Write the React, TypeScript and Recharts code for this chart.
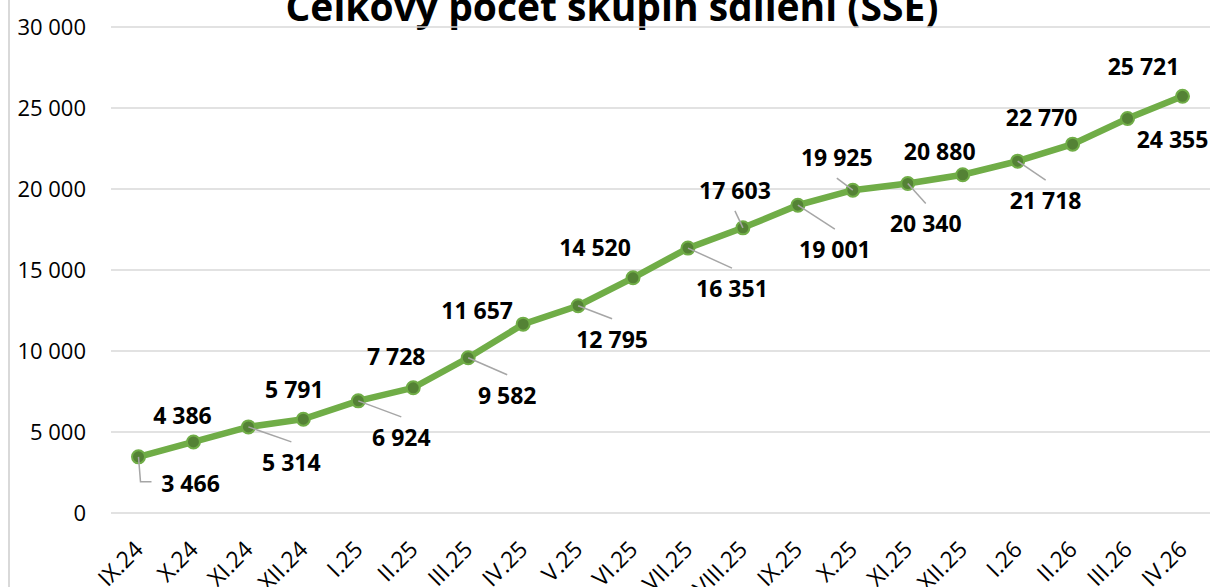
import { LineChart, Line, XAxis, YAxis, CartesianGrid, LabelList } from 'recharts';

const months = [
  'IX.24', 'X.24', 'XI.24', 'XII.24', 'I.25', 'II.25', 'III.25', 'IV.25', 'V.25', 'VI.25',
  'VII.25', 'VIII.25', 'IX.25', 'X.25', 'XI.25', 'XII.25', 'I.26', 'II.26', 'III.26', 'IV.26',
];
const groupCounts = [
  3466, 4386, 5314, 5791, 6924, 7728, 9582, 11657, 12795, 14520,
  16351, 17603, 19001, 19925, 20340, 20880, 21718, 22770, 24355, 25721,
];
const yTicks = [0, 5000, 10000, 15000, 20000, 25000, 30000];
const title = 'Celkový počet skupín sdílení (SSE)';

// where each value label sits relative to its point (dx, dy, leader line kind)
const labelSpots: [number, number, string][] = [
  [52, 27, 'elbow'],
  [-11, -26, ''],
  [43, 36, 'down'],
  [-9, -29, ''],
  [43, 37, 'down'],
  [-17, -31, ''],
  [39, 38, 'down'],
  [-46, -13, ''],
  [34, 34, 'down'],
  [-38, -30, ''],
  [44, 41, 'down'],
  [-8, -37, 'up'],
  [37, 45, 'down'],
  [-16, -32, 'up'],
  [18, 41, 'down'],
  [-23, -23, ''],
  [28, 40, 'down'],
  [-31, -26, ''],
  [45, 22, ''],
  [-39, -29, ''],
];

const FONT = '"Open Sans", sans-serif';
const GREEN = '#70AD47';
const DARK_GREEN = '#548235';
const GRID = '#d9d9d9';

const fmt = (v: number) => String(v).replace(/\B(?=(\d{3})+(?!\d))/g, ' ');

const data = months.map((m, i) => ({ month: m, count: groupCounts[i] }));

function ValueLabel(props: any) {
  const { x, y, index, value } = props;
  const [dx, dy, leader] = labelSpots[index] || [0, -25, ''];
  const lx = x + dx;
  const ly = y + dy;
  let line = null;
  if (leader === 'down') {
    line = <line x1={x} y1={y} x2={lx} y2={ly - 21} stroke="#a6a6a6" strokeWidth={1.5} />;
  } else if (leader === 'up') {
    line = <line x1={x} y1={y} x2={lx} y2={ly + 20} stroke="#a6a6a6" strokeWidth={1.5} />;
  } else if (leader === 'elbow') {
    line = (
      <polyline
        points={`${x},${y} ${x + 2},${ly - 2} ${lx - 39},${ly - 2}`}
        fill="none"
        stroke="#a6a6a6"
        strokeWidth={1.5}
      />
    );
  }
  return (
    <g>
      {line}
      <text x={lx} y={ly + 8} textAnchor="middle" fontFamily={FONT} fontWeight="bold" fontSize={23} fill="#000">
        {fmt(value)}
      </text>
    </g>
  );
}

function MonthTick(props: any) {
  const { x, y, payload } = props;
  const ax = x + 6;
  const ay = y + 30;
  return (
    <text
      x={ax}
      y={ay}
      transform={`rotate(-45, ${ax}, ${ay})`}
      textAnchor="end"
      fontFamily={FONT}
      fontSize={23}
      fill="#000"
    >
      {payload.value}
    </text>
  );
}

export default function App() {
  return (
    <div style={{ position: 'absolute', left: 0, top: 0, width: 1212, height: 587, overflow: 'hidden', background: '#fff' }}>
      <div style={{ position: 'absolute', left: 8, top: 0, width: 1.5, height: 587, background: GRID }} />
      <svg width={1212} height={40} style={{ position: 'absolute', left: 0, top: 0 }}>
        <text x={612} y={21} textAnchor="middle" fontFamily={FONT} fontWeight="bold" fontSize={39} fill="#000">
          {title}
        </text>
      </svg>
      <div style={{ position: 'absolute', left: 0, top: 0 }}>
        <LineChart width={1212} height={587} data={data} margin={{ top: 27, right: 2, left: 0, bottom: 0 }}>
          <CartesianGrid vertical={false} stroke={GRID} strokeWidth={1.5} />
          <XAxis
            dataKey="month"
            interval={0}
            axisLine={false}
            tickLine={false}
            height={74}
            padding={{ left: 27.5, right: 27.5 }}
            tick={<MonthTick />}
          />
          <YAxis
            domain={[0, 30000]}
            ticks={yTicks}
            width={111}
            axisLine={false}
            tickLine={false}
            tickMargin={19}
            tickFormatter={fmt}
            tick={{ fill: '#000', fontSize: 22, fontFamily: FONT }}
          />
          <Line
            type="linear"
            dataKey="count"
            stroke={GREEN}
            strokeWidth={6.5}
            dot={{ r: 6.5, fill: DARK_GREEN, stroke: GREEN, strokeWidth: 2 }}
            isAnimationActive={false}
          >
            <LabelList dataKey="count" content={<ValueLabel />} />
          </Line>
        </LineChart>
      </div>
    </div>
  );
}
